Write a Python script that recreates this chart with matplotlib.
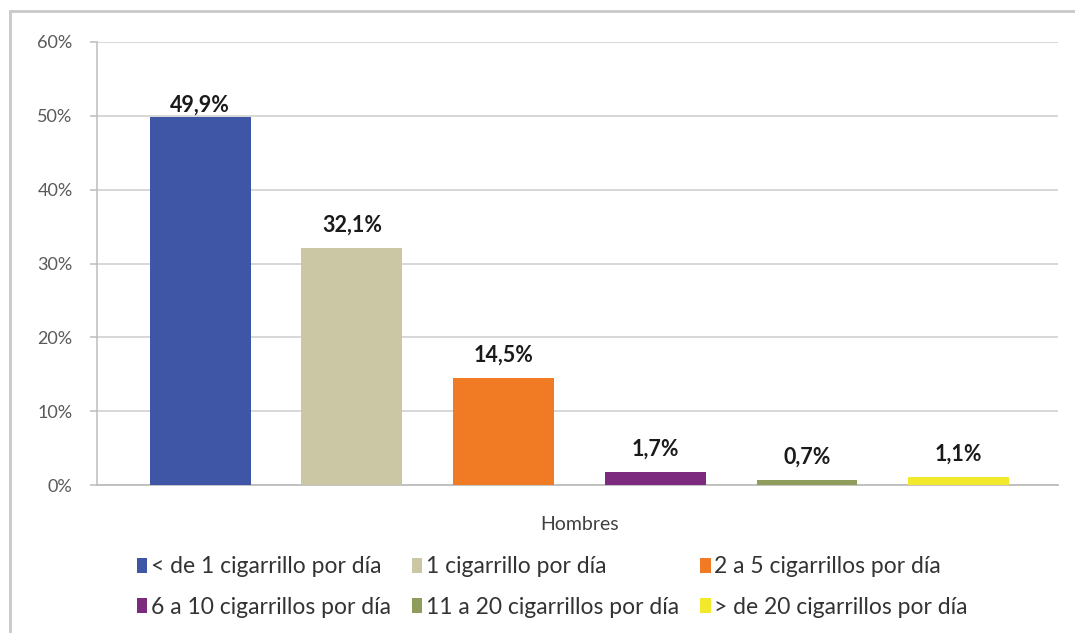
import matplotlib
matplotlib.use('Agg')
import matplotlib.pyplot as plt
from matplotlib.patches import Rectangle

# data
series = ["< de 1 cigarrillo por día", "1 cigarrillo por día", "2 a 5 cigarrillos por día",
          "6 a 10 cigarrillos por día", "11 a 20 cigarrillos por día", "> de 20 cigarrillos por día"]
values = [49.9, 32.1, 14.5, 1.7, 0.7, 1.1]
labels = ["49,9%", "32,1%", "14,5%", "1,7%", "0,7%", "1,1%"]
colors = ["#3F56A6", "#CBC6A4", "#F07B24", "#7B2A7E", "#8E9C5C", "#F2E92C"]
category = "Hombres"
yticks = [0, 10, 20, 30, 40, 50, 60]

plt.rcParams['font.family'] = ['Lato', 'DejaVu Sans']

fig = plt.figure(figsize=(10.75, 6.33), dpi=100)
fig.patch.set_facecolor('white')

# outer frame of the chart area (cut off at right and bottom)
fig.patches.append(Rectangle((10 / 1075, -0.1), 1.2, 1 - 11 / 633 + 0.1, transform=fig.transFigure,
                             fill=False, edgecolor='#C8C8C8', linewidth=2.0, zorder=0))

ax = fig.add_axes([97 / 1075, 1 - 485 / 633, (1058 - 97) / 1075, (485 - 42) / 633])

x = list(range(len(values)))
handles = []
for i, v in enumerate(values):
    b = ax.bar(x[i], v, width=0.665, color=colors[i], label=series[i], zorder=3)
    handles.append(b)

# data labels above bars, kept inside the plot area
for i, v in enumerate(values):
    ly = min(v + 3.1, 51.4)
    ax.text(x[i], ly, labels[i], ha='center', va='center', fontsize=15.5,
            fontweight='bold', color='#1A1A1A', zorder=4)

ax.set_xlim(-0.68, 5.655)
ax.set_ylim(0, 60)
ax.set_yticks(yticks)
ax.set_yticklabels([f"{t}%" for t in yticks], fontsize=13, color='#595959')
ax.yaxis.grid(True, color='#D4D4D4', linewidth=1.3, zorder=0)
ax.set_axisbelow(True)
ax.tick_params(axis='y', length=5, width=1.1, color='#BDBDBD', pad=12.5)
ax.set_xticks([(x[0] + x[-1]) / 2])
ax.set_xticklabels([category], fontsize=14, color='#404040')
ax.tick_params(axis='x', length=0, pad=22)

for s in ['top', 'right']:
    ax.spines[s].set_visible(False)
ax.spines['left'].set_color('#BDBDBD')
ax.spines['bottom'].set_color('#BDBDBD')
ax.spines['left'].set_linewidth(1.1)
ax.spines['bottom'].set_linewidth(1.3)

# legend filled row by row, 3 per row
order = [0, 3, 1, 4, 2, 5]
ax.legend([handles[i] for i in order], [series[i] for i in order],
          loc='upper left', bbox_to_anchor=(0.0416, -0.161), ncol=3, frameon=False,
          fontsize=16.5, handlelength=0.45, handleheight=0.6, handletextpad=0.15,
          columnspacing=0.93, labelspacing=0.84, borderpad=0, borderaxespad=0,
          labelcolor='#333333')

fig.savefig("out.png", dpi=100, facecolor='white')
